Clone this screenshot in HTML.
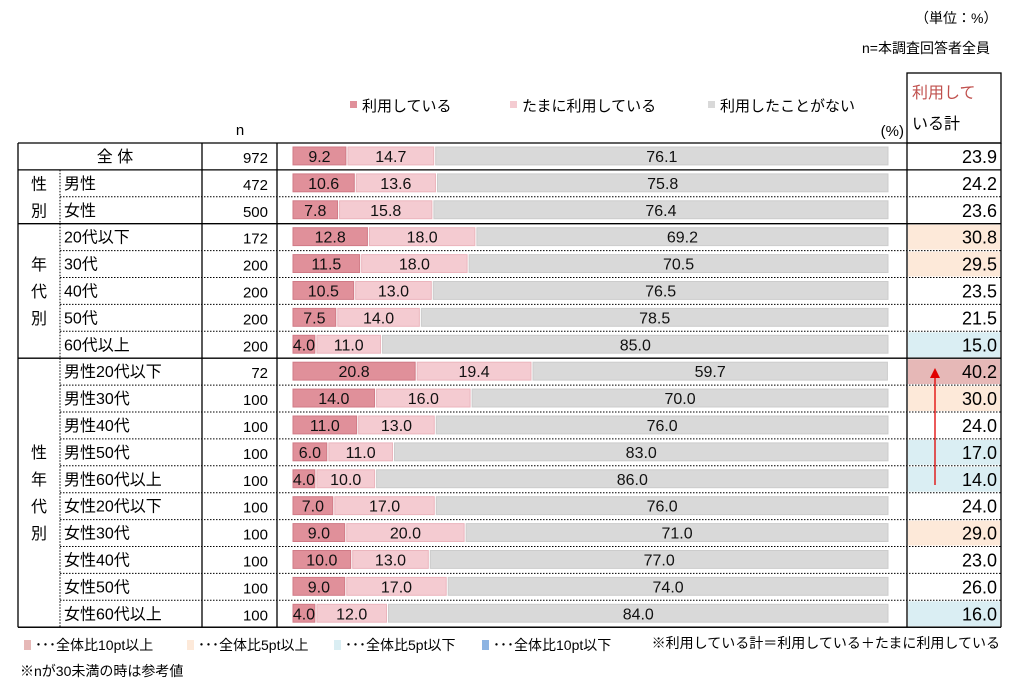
<!DOCTYPE html>
<html><head><meta charset="utf-8"><style>
body{margin:0;width:1017px;height:682px;background:#fff;font-family:"Liberation Sans","Noto Sans CJK JP",sans-serif;position:relative;overflow:hidden;color:#000}
.t{position:absolute;white-space:nowrap;font-size:15px}
</style></head><body>
<div class="t" style="left:915px;top:8px;font-size:14px">（単位：%）</div>
<div class="t" style="left:862px;top:38px;font-size:14px">n=本調査回答者全員</div>
<svg id="c" width="1017" height="682" style="position:absolute;left:0;top:0"></svg>
<script>
const labels=["全 体","男性","女性","20代以下","30代","40代","50代","60代以上","男性20代以下","男性30代","男性40代","男性50代","男性60代以上","女性20代以下","女性30代","女性40代","女性50代","女性60代以上"];
const nvals=[972,472,500,172,200,200,200,200,72,100,100,100,100,100,100,100,100,100];
const use=[9.2,10.6,7.8,12.8,11.5,10.5,7.5,4.0,20.8,14.0,11.0,6.0,4.0,7.0,9.0,10.0,9.0,4.0];
const some=[14.7,13.6,15.8,18.0,18.0,13.0,14.0,11.0,19.4,16.0,13.0,11.0,10.0,17.0,20.0,13.0,17.0,12.0];
const never=[76.1,75.8,76.4,69.2,70.5,76.5,78.5,85.0,59.7,70.0,76.0,83.0,86.0,76.0,71.0,77.0,74.0,84.0];
const total=[23.9,24.2,23.6,30.8,29.5,23.5,21.5,15.0,40.2,30.0,24.0,17.0,14.0,24.0,29.0,23.0,26.0,16.0];
const groups=[{name:"性別",from:1,to:2},{name:"年代別",from:3,to:7},{name:"性年代別",from:8,to:17}];
const NS="http://www.w3.org/2000/svg",svg=document.getElementById('c');
function el(t,a,p){const e=document.createElementNS(NS,t);for(const k in a)e.setAttribute(k,a[k]);(p||svg).appendChild(e);return e;}
function txt(x,y,s,anchor,size,fill){const e=el('text',{x:x,y:y,'text-anchor':anchor||'start','font-size':size||15,fill:fill||'#000','font-family':'"Liberation Sans","Noto Sans CJK JP",sans-serif'});e.textContent=s;return e;}
const top0=143,rh=26.9,bx0=293,scale=5.97;
const xs=v=>v*scale;
const rowY=i=>top0+i*rh;
let h;
h=el('rect',{x:907,y:73,width:94,height:70,fill:'none',stroke:'#000','stroke-width':1.3});
h=txt(912,98,"利用して","start",16,"#c0504d");
txt(912,129,"いる計","start",16,"#000");
h=txt(240,135,"n","middle",15);
txt(904,136,"(%)","end",15);
const leg=[["利用している",350,"#e0909a"],["たまに利用している",510,"#f4cbd1"],["利用したことがない",708,"#d9d9d9"]];
leg.forEach(l=>{const r=el('rect',{x:l[1],y:101,width:7,height:7,fill:l[2]});
const t=txt(l[1]+12,111,l[0],"start",15);});
function tcolor(i){const d=total[i]-total[0];if(d>=10)return"#e6b8b7";if(d>=5)return"#fde9d9";if(d<=-10)return"#8db4e2";if(d<=-5)return"#daeef3";return"none";}
labels.forEach((lab,i)=>{
 const y=rowY(i);
 const f=tcolor(i);
 if(f!=="none"){const r=el('rect',{x:908,y:y+1,width:92,height:rh-2,fill:f});}
 let lt;
 if(i===0){lt=txt(115,y+19,lab,"middle",16);}else{lt=txt(64,y+19,lab,"start",16);}
 
 const nt=txt(268,y+20,String(nvals[i]),"end",15);
 let x=bx0;const by=y+4,bh=rh-9;
 [[use[i],"#e0909a","#d07a86","bar-use"],[some[i],"#f4cbd1","#ebb5bd","bar-some"],[never[i],"#d9d9d9","#cccccc","bar-never"]].forEach(s=>{
  const w=xs(s[0]);
  const r=el('rect',{x:x,y:by,width:w-2,height:bh,fill:s[1],stroke:s[2],'stroke-width':1});
  const vt=txt(x+(w-2)/2,y+19,s[0].toFixed(1),"middle",16,"#111");
  x+=w;
 });
 const tt=txt(997,y+20,total[i].toFixed(1),"end",18);
});
const bottom=rowY(labels.length);
function line(x1,y1,x2,y2,dash,name){const l=el('line',{x1:x1,y1:y1,x2:x2,y2:y2,stroke:'#000','stroke-width':dash?1:1.3});if(dash)l.setAttribute('stroke-dasharray','1.5,1.5');}
line(18,top0,1001,top0,false,'table-top');
line(18,bottom,1001,bottom,false,'table-bottom');
line(18,top0,18,bottom,false,'table-left');
line(1001,top0,1001,bottom,false,'table-right');
[202,277,907].forEach(x=>line(x,top0,x,bottom,false,'column-divider'));
line(18,rowY(1),1001,rowY(1),false,'group-divider');
groups.forEach(g=>{
 line(18,rowY(g.to+1),1001,rowY(g.to+1),false,'group-divider');
 line(60,rowY(g.from),60,rowY(g.to+1),true,'group-col-divider');
 for(let r=g.from+1;r<=g.to;r++)line(60,rowY(r),1001,rowY(r),true,'row-divider');
 const chars=[...g.name],mid=(rowY(g.from)+rowY(g.to+1))/2,step=27,s0=mid-(chars.length-1)*step/2;
 chars.forEach((c,k)=>{const t=txt(39,s0+k*step+6,c,"middle",16);});
});
const a=el('line',{x1:935,y1:485,x2:935,y2:377,stroke:'#e00000','stroke-width':1.3});
const ah=el('path',{d:'M930,378 L935,368 L940,378 Z',fill:'#e00000'});
const fl=[["#e6b8b7",18,"･･･全体比10pt以上"],["#fde9d9",181,"･･･全体比5pt以上"],["#daeef3",328,"･･･全体比5pt以下"],["#8db4e2",476,"･･･全体比10pt以下"]];
fl.forEach(f=>{const r=el('rect',{x:f[1]+6,y:640,width:7,height:10,fill:f[0]});
const t=txt(f[1]+17,650,f[2],"start",14);});
h=txt(1000,648,"※利用している計＝利用している＋たまに利用している","end",14);
h=txt(20,676,"※nが30未満の時は参考値","start",14);
</script>
</body></html>
